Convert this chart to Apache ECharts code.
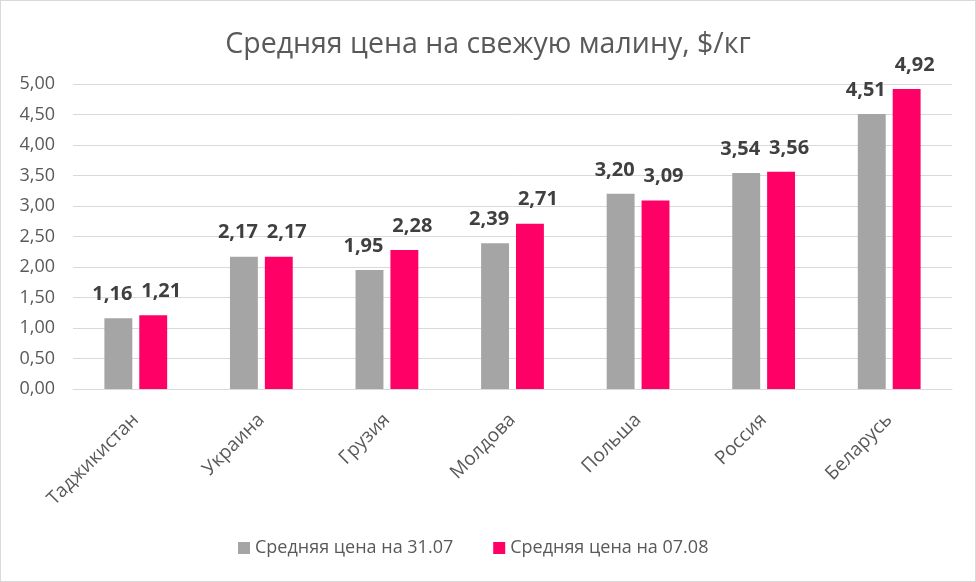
<!DOCTYPE html>
<html><head><meta charset="utf-8">
<script src="https://cdn.jsdelivr.net/npm/echarts@6/dist/echarts.min.js"></script>
<style>html,body{margin:0;padding:0;background:#fff}#c{width:976px;height:582px;box-sizing:border-box;border:1px solid #d9d9d9}</style>
</head><body><div id="c"></div>
<script>
const categories = ['Таджикистан','Украина','Грузия','Молдова','Польша','Россия','Беларусь'];
const series1Name = 'Средняя цена на 31.07';
const series2Name = 'Средняя цена на 07.08';
const values1 = [1.16, 2.17, 1.95, 2.39, 3.20, 3.54, 4.51];
const values2 = [1.21, 2.17, 2.28, 2.71, 3.09, 3.56, 4.92];
const titleText = 'Средняя цена на свежую малину, $/кг';
const FONT = '"Open Sans", sans-serif';
const fmt = v => v.toFixed(2).replace('.', ',');
const chart = echarts.init(document.getElementById('c'));
chart.setOption({
  animation: false,
  title: {text: titleText, left: 'center', top: 24, textStyle: {fontFamily: FONT, fontSize: 28.5, fontWeight: 'normal', color: '#595959'}},
  grid: {left: 72, right: 23, top: 83, bottom: 192, containLabel: false},
  legend: {bottom: 19, left: 232, itemWidth: 12, itemHeight: 12, itemGap: 40,
    textStyle: {fontFamily: FONT, fontSize: 18, color: '#595959'},
    data: [{name: series1Name, icon: 'rect'}, {name: series2Name, icon: 'rect'}]},
  xAxis: {type: 'category', data: categories,
    axisLine: {lineStyle: {color: '#d9d9d9'}}, axisTick: {show: false},
    axisLabel: {rotate: 45, interval: 0, margin: 28, fontFamily: FONT, fontSize: 19, color: '#595959'}},
  yAxis: {type: 'value', min: 0, max: 5, interval: 0.5,
    axisLine: {show: false}, axisTick: {show: false},
    splitLine: {lineStyle: {color: '#d9d9d9'}},
    axisLabel: {formatter: fmt, margin: 18, fontFamily: FONT, fontSize: 18, color: '#595959'}},
  series: [
    {name: series1Name, type: 'bar', data: values1, barGap: '25%', barCategoryGap: '50%',
      itemStyle: {color: '#a5a5a5'},
      label: {show: true, position: 'top', distance: 14, offset: [-6, 0], formatter: p => fmt(p.value), fontFamily: FONT, fontSize: 20, fontWeight: 'bold', color: '#404040'}},
    {name: series2Name, type: 'bar', data: values2,
      itemStyle: {color: '#ff0066'},
      label: {show: true, position: 'top', distance: 14, offset: [8, 0], formatter: p => fmt(p.value), fontFamily: FONT, fontSize: 20, fontWeight: 'bold', color: '#404040'}}
  ]
});
</script></body></html>
